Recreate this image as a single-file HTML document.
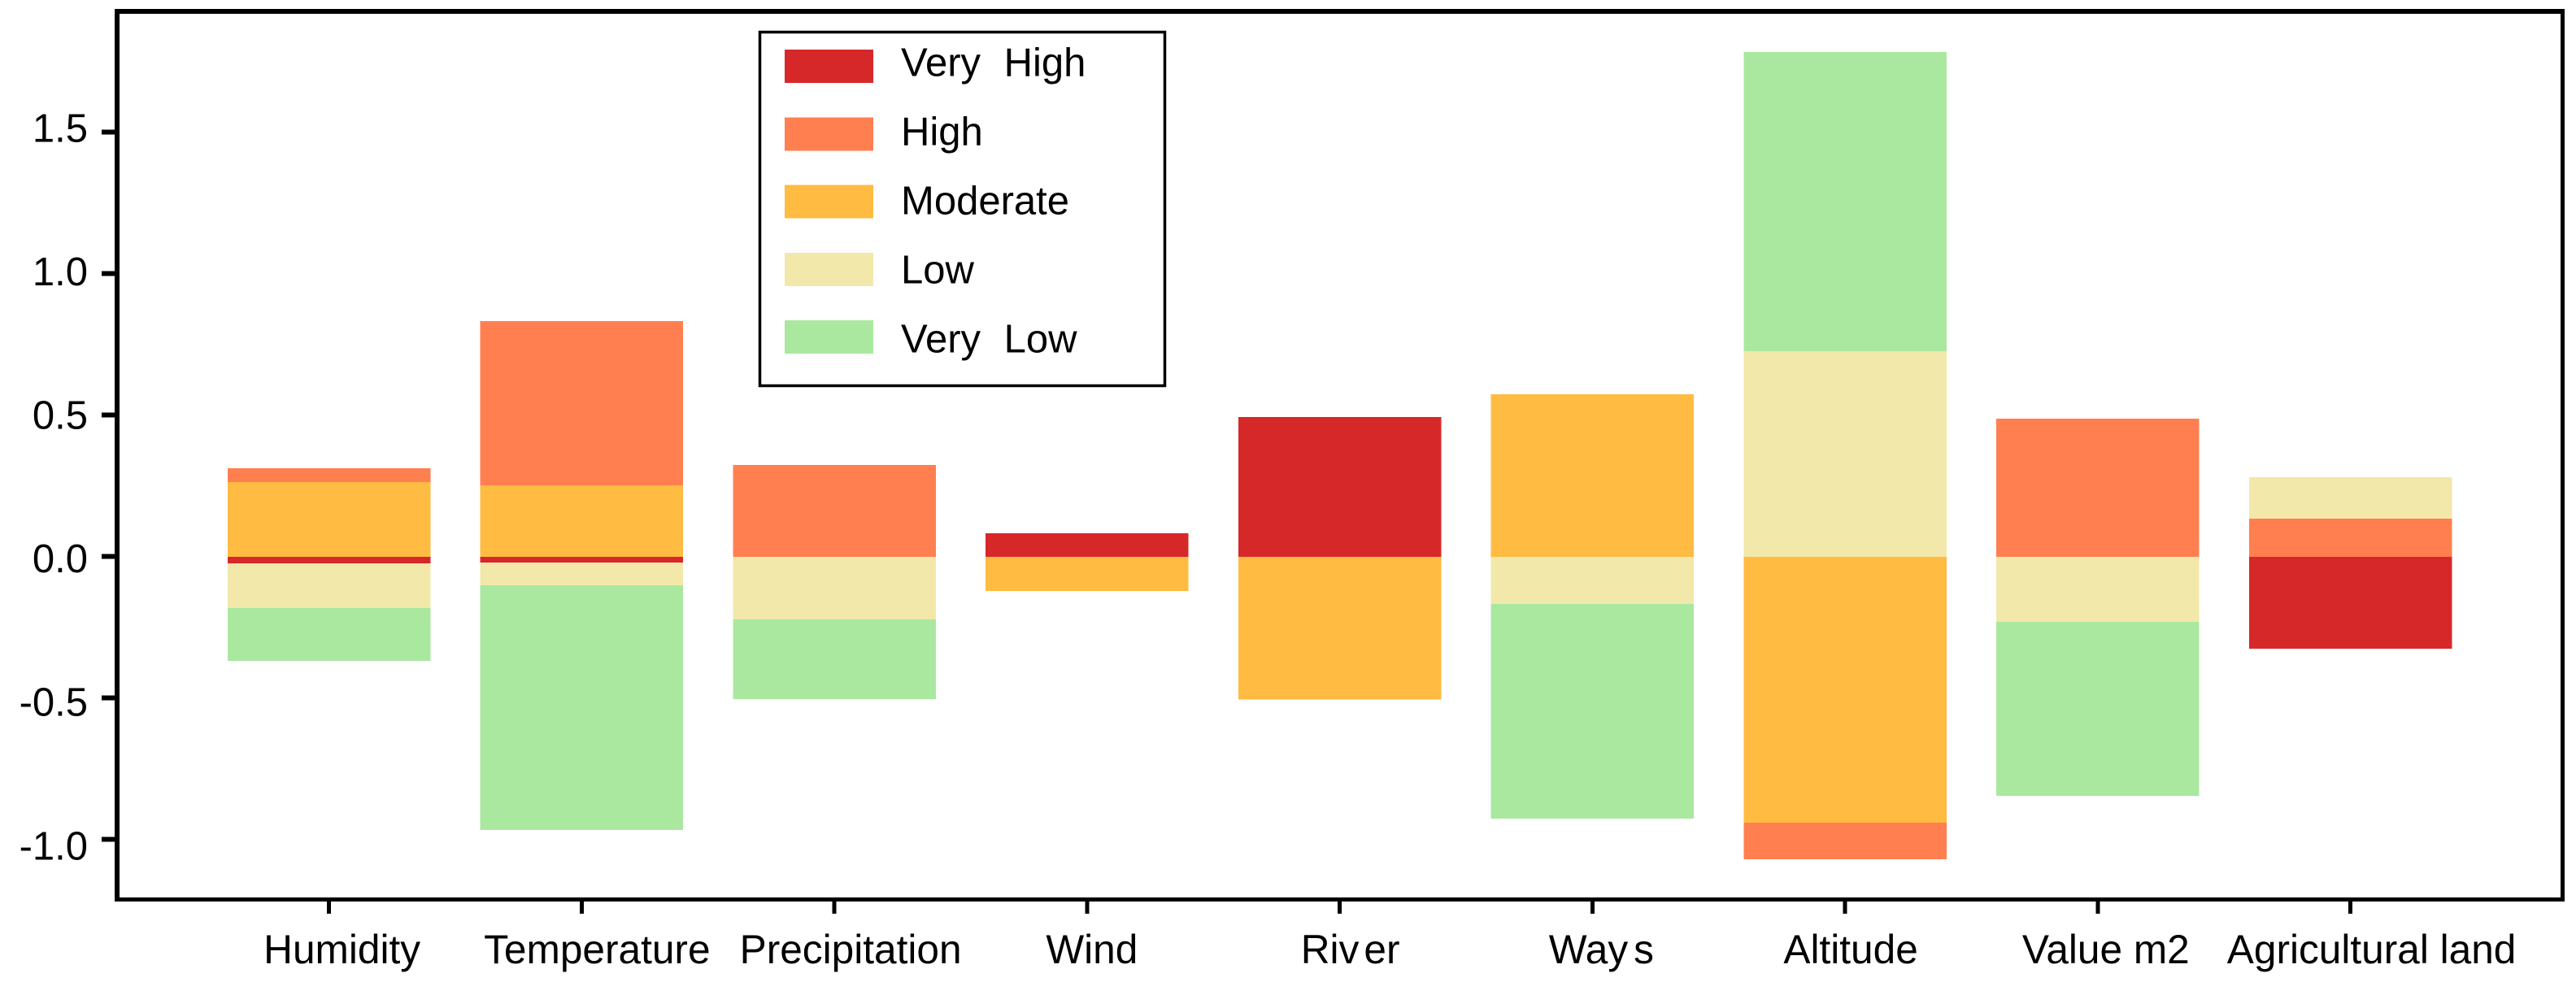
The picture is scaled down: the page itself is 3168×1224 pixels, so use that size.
<!DOCTYPE html>
<html lang="en">
<head>
<meta charset="utf-8">
<title>Stacked bar chart of factors by level</title>
<style>
  html, body { margin: 0; padding: 0; background: #ffffff; }
  svg { display: block; }
  text { font-family: "Liberation Sans", Arial, sans-serif; fill: #000000; }
</style>
</head>
<body>
<svg id="chart" xmlns="http://www.w3.org/2000/svg" width="3168" height="1224" viewBox="0 0 3168 1224">
  <rect x="0" y="0" width="3168" height="1224" fill="#ffffff"></rect>
  <g id="bars" shape-rendering="crispEdges"></g>
  <g id="axes" shape-rendering="crispEdges"></g>
  <g id="tick-labels"></g>
  <g id="legend"></g>
</svg>
<script>
const categories = ["Humidity", "Temperature", "Precipitation", "Wind", "River", "Ways", "Altitude", "Value m2", "Agricultural land"];
const veryHigh = [-0.023, -0.02, 0, 0.083, 0.494, 0, 0, 0, -0.325];
const moderate = [0.264, 0.253, 0, -0.12, -0.505, 0.575, -0.94, 0, 0];
const high = [0.049, 0.58, 0.325, 0, 0, 0, -0.129, 0.489, 0.135];
const low = [-0.158, -0.08, -0.221, 0, 0, -0.167, 0.727, -0.23, 0.147];
const veryLow = [-0.187, -0.866, -0.282, 0, 0, -0.758, 1.058, -0.615, 0];
const yTicks = [-1.0, -0.5, 0.0, 0.5, 1.0, 1.5];
const legendLabels = ["Very High", "High", "Moderate", "Low", "Very Low"];

/* Layout and styling, separate from the data */
const NS = "http://www.w3.org/2000/svg";
const barWidth = 249.5;
const zeroY = 685;
const pxPerUnit = 348;
const firstX = 404.6;
const stepX = 310.75;
const labelBaseline = 1185;
const labelNudge = { "Humidity": 16, "Temperature": 19, "Precipitation": 20, "Wind": 6, "River": 13, "Ways": 11, "Altitude": 7, "Value m2": 10, "Agricultural land": 26 };
const glyphGap = { "River": "0 0 0 6", "Ways": "0 0 0 7" };
const colors = { veryHigh: "#D62828", high: "#FF7F50", moderate: "#FFBB42", low: "#F2E8AA", veryLow: "#AAE8A0" };

function xScale(i) { return firstX + stepX * i; }
function yScale(v) { return zeroY - pxPerUnit * v; }
/* The reference's y labels are spaced slightly wider than its tick marks */
function yLabelBaseline(v) { return 704.1 - 353.2 * v; }
function make(tag, attrs, parent) {
  const el = document.createElementNS(NS, tag);
  for (const k in attrs) el.setAttribute(k, attrs[k]);
  parent.appendChild(el);
  return el;
}

/* Stacking order: positive values build upward from zero, negative values downward */
const stackOrder = [
  { key: "very-high", values: veryHigh, color: colors.veryHigh },
  { key: "moderate", values: moderate, color: colors.moderate },
  { key: "high", values: high, color: colors.high },
  { key: "low", values: low, color: colors.low },
  { key: "very-low", values: veryLow, color: colors.veryLow }
];

const barsGroup = document.getElementById("bars");
categories.forEach(function (cat, i) {
  let up = 0;
  let down = 0;
  stackOrder.forEach(function (series) {
    const v = series.values[i];
    if (!v) return;
    const start = v > 0 ? up : down;
    const end = start + v;
    if (v > 0) up = end; else down = end;
    const y1 = yScale(Math.max(start, end));
    const y2 = yScale(Math.min(start, end));
    const r = make("rect", { x: xScale(i) - barWidth / 2, y: y1, width: barWidth, height: y2 - y1, fill: series.color }, barsGroup);
    
    
  });
});

const axesGroup = document.getElementById("axes");
const labelsGroup = document.getElementById("tick-labels");

const topSpine = make("rect", { x: 141, y: 11, width: 3013, height: 6, fill: "#000" }, axesGroup);


const leftSpine = make("rect", { x: 141, y: 11, width: 6, height: 1098, fill: "#000" }, axesGroup);


const rightSpine = make("rect", { x: 3149, y: 11, width: 5, height: 1098, fill: "#000" }, axesGroup);


const bottomSpine = make("rect", { x: 141, y: 1104, width: 3013, height: 5, fill: "#000" }, axesGroup);



yTicks.forEach(function (t) {
  const mark = make("rect", { x: 125, y: yScale(t) - 3.7, width: 16, height: 6, fill: "#000" }, axesGroup);
  
  
  const lab = make("text", { x: 108, y: yLabelBaseline(t), "text-anchor": "end", "font-size": 49 }, labelsGroup);
  lab.textContent = t.toFixed(1);
  
  
});

categories.forEach(function (cat, i) {
  const xx = xScale(i);
  const mark = make("rect", { x: xx - 2.5, y: 1109, width: 5, height: 15, fill: "#000" }, axesGroup);
  
  
  const lab = make("text", { x: xx + labelNudge[cat], y: labelBaseline, "text-anchor": "middle", "font-size": 49.6 }, labelsGroup);
  if (glyphGap[cat]) lab.setAttribute("dx", glyphGap[cat]);
  lab.textContent = cat;
  
  
});

/* Legend */
const legendGroup = document.getElementById("legend");
const legendBox = make("rect", { x: 934.5, y: 39.5, width: 498, height: 435, fill: "#ffffff", stroke: "#000", "stroke-width": 3.5 }, legendGroup);


const legendColors = [colors.veryHigh, colors.high, colors.moderate, colors.low, colors.veryLow];
legendLabels.forEach(function (name, i) {
  const top = 61 + i * 83.25;
  const swatch = make("rect", { x: 965, y: top, width: 109, height: 41, fill: legendColors[i], "shape-rendering": "crispEdges" }, legendGroup);
  
  
  const label = make("text", { x: 1108, y: 93.5 + i * 85, "font-size": 49, "word-spacing": "15" }, legendGroup);
  label.textContent = name;
  
  
});
</script>
</body>
</html>
